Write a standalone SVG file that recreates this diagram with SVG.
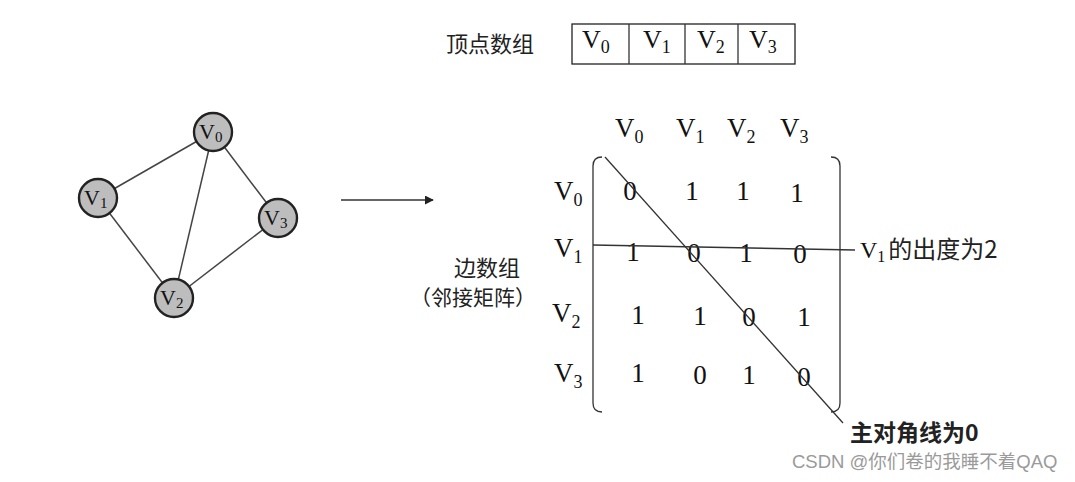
<svg xmlns="http://www.w3.org/2000/svg" width="1075" height="482" viewBox="0 0 1075 482">
<defs>
<style>
.bg{fill:#fff}
.ln{stroke:#333;stroke-width:1.3;fill:none}
.ed{stroke:#444;stroke-width:1.5;fill:none}
.nd{fill:#bdbdbd;stroke:#222;stroke-width:2.4}
.tm{font-family:"Liberation Serif",serif;fill:#111}
.nl{font-size:22px}
.mx{font-size:27px}
.cj{font-family:"Noto Sans CJK SC",sans-serif;fill:#222}
.wm{font-family:"Liberation Sans","Noto Sans CJK SC",sans-serif;fill:#9a9a9a;font-size:18.5px}
</style>
<marker id="ah" viewBox="0 0 10 10" refX="9" refY="5" markerWidth="9" markerHeight="9" orient="auto" markerUnits="userSpaceOnUse"><path d="M0,0 L10,5 L0,10 z" fill="#222"/></marker>
</defs>
<rect class="bg" width="1075" height="482"/>

<g id="connectors">
<line class="ed" x1="213" y1="132" x2="98" y2="198"/>
<line class="ed" x1="213" y1="132" x2="174" y2="298"/>
<line class="ed" x1="213" y1="132" x2="278" y2="218"/>
<line class="ed" x1="98" y1="198" x2="174" y2="298"/>
<line class="ed" x1="174" y1="298" x2="278" y2="218"/>
<line class="ln" x1="341" y1="200" x2="433" y2="200" marker-end="url(#ah)"/>
</g>

<g id="node-v0"><circle class="nd" cx="213" cy="132" r="19"/><text class="tm nl" x="199" y="139">V<tspan font-size="15" dy="3">0</tspan></text></g>
<g id="node-v1"><circle class="nd" cx="98" cy="198" r="19"/><text class="tm nl" x="84" y="205">V<tspan font-size="15" dy="3">1</tspan></text></g>
<g id="node-v3"><circle class="nd" cx="278" cy="218" r="19"/><text class="tm nl" x="264" y="225">V<tspan font-size="15" dy="3">3</tspan></text></g>
<g id="node-v2"><circle class="nd" cx="174" cy="298" r="19"/><text class="tm nl" x="160" y="305">V<tspan font-size="15" dy="3">2</tspan></text></g>

<g id="vertex-array">
<text class="cj" x="446" y="52" font-size="22">顶点数组</text>
<rect x="572" y="24" width="223" height="40" fill="none" stroke="#222" stroke-width="1.3"/>
<line class="ln" x1="629" y1="24" x2="629" y2="64"/>
<line class="ln" x1="685" y1="24" x2="685" y2="64"/>
<line class="ln" x1="738" y1="24" x2="738" y2="64"/>
<text class="tm" font-size="26" x="582" y="48">V<tspan font-size="18" dy="5">0</tspan></text>
<text class="tm" font-size="26" x="643" y="48">V<tspan font-size="18" dy="5">1</tspan></text>
<text class="tm" font-size="26" x="697" y="48">V<tspan font-size="18" dy="5">2</tspan></text>
<text class="tm" font-size="26" x="749" y="48">V<tspan font-size="18" dy="5">3</tspan></text>
</g>

<g id="edge-array-label">
<text class="cj" x="454" y="276" font-size="22">边数组</text>
<text class="cj" x="410" y="305" font-size="21">（邻接矩阵）</text>
</g>

<g id="matrix">
<text class="tm mx" x="615" y="137">V<tspan font-size="18" dy="6">0</tspan></text>
<text class="tm mx" x="676" y="137">V<tspan font-size="18" dy="6">1</tspan></text>
<text class="tm mx" x="727" y="137">V<tspan font-size="18" dy="6">2</tspan></text>
<text class="tm mx" x="780" y="137">V<tspan font-size="18" dy="6">3</tspan></text>
<text class="tm mx" x="554" y="200">V<tspan font-size="18" dy="6">0</tspan></text>
<text class="tm mx" x="554" y="257">V<tspan font-size="18" dy="6">1</tspan></text>
<text class="tm mx" x="552" y="322">V<tspan font-size="18" dy="6">2</tspan></text>
<text class="tm mx" x="554" y="382">V<tspan font-size="18" dy="6">3</tspan></text>
<path class="ln" d="M602,157 Q593,157 593,166 L593,403 Q593,412 602,412"/>
<path class="ln" d="M831,157 Q840,157 840,166 L840,403 Q840,412 831,412"/>
<g class="tm mx" text-anchor="middle">
<text x="630" y="200">0</text><text x="692" y="200">1</text><text x="743" y="200">1</text><text x="797" y="202">1</text>
<text x="633" y="261">1</text><text x="694" y="262">0</text><text x="746" y="262">1</text><text x="800" y="263">0</text>
<text x="638" y="324">1</text><text x="700" y="325">1</text><text x="749" y="326">0</text><text x="804" y="326">1</text>
<text x="638" y="382">1</text><text x="700" y="384">0</text><text x="749" y="384">1</text><text x="804" y="386">0</text>
</g>
<line class="ln" x1="605" y1="157" x2="843" y2="423"/>
<line class="ln" x1="593" y1="245" x2="855" y2="250"/>
</g>

<g id="annotations">
<text x="860" y="258" font-size="24"><tspan class="tm">V</tspan><tspan class="tm" font-size="16" dy="4">1</tspan><tspan class="cj" dy="-4" dx="3">的出度为2</tspan></text>
<text class="cj" x="850" y="441" font-size="23" font-weight="bold" fill="#111">主对角线为0</text>
<text class="wm" x="792" y="468">CSDN @你们卷的我睡不着QAQ</text>
</g>
</svg>
